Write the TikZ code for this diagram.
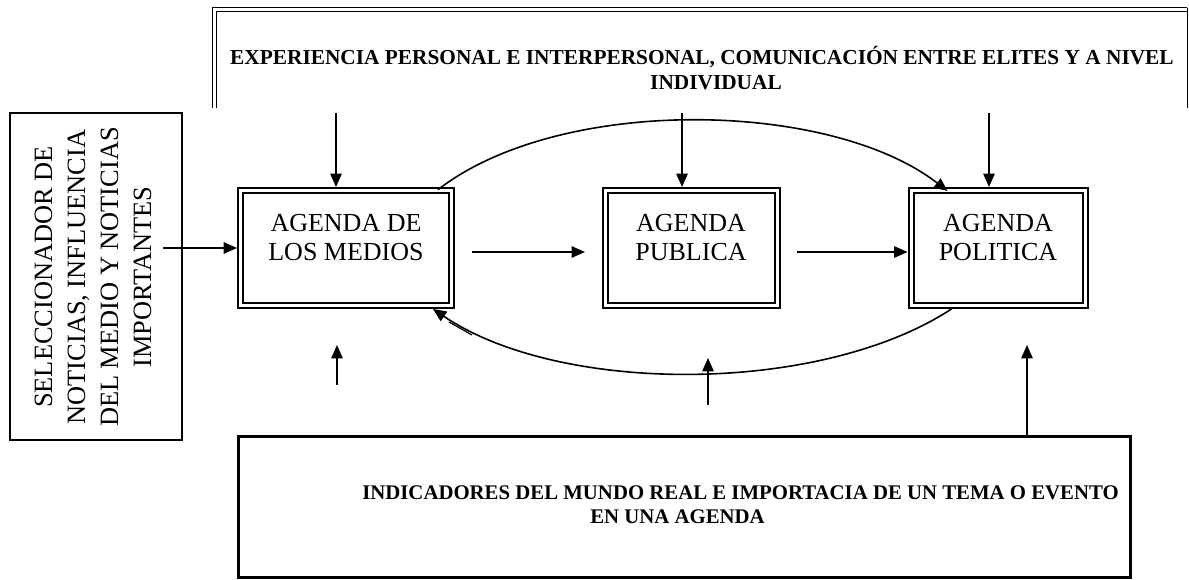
\documentclass[tikz,border=0pt]{standalone}
\usepackage{fontspec}
\setmainfont{Liberation Serif}
\usetikzlibrary{arrows.meta,calc}
\begin{document}
\begin{tikzpicture}[x=0.75pt,y=-0.75pt,
  arr/.style={line width=1.2pt,-{Triangle[length=10pt,width=8.5pt]}},
  agbox/.style={draw,double,double distance=2.25pt,line width=1.5pt,minimum width=#1,minimum height=86.25pt,inner sep=0pt,outer sep=2.6pt},
  agtext/.style={font=\fontsize{19.5pt}{21.75pt}\selectfont,align=center,inner sep=0pt},
  boldtext/.style={font=\fontsize{16pt}{19pt}\selectfont\bfseries,inner sep=0pt},
  boldsmall/.style={font=\fontsize{15.6pt}{18.5pt}\selectfont\bfseries,inner sep=0pt},
  sidetext/.style={font=\fontsize{19.8pt}{24.75pt}\selectfont,align=center,inner sep=0pt,rotate=90},
  frame/.style={draw,line width=#1,inner sep=0pt}]
\useasboundingbox (0,0) rectangle (1189,580);

% top frame (open at the bottom)
\draw[double,double distance=1.6pt,line width=0.9pt] (214.5,108) -- (214.5,9.5) -- (1187,9.5);
\draw[line width=1.4pt] (1187.5,8) -- (1187.5,108);
\node[boldtext,anchor=base] (tt1) at (702,65) {EXPERIENCIA PERSONAL E INTERPERSONAL, COMUNICACIÓN ENTRE ELITES Y A NIVEL};
\node[boldtext,anchor=base] (tt2) at (716,90) {INDIVIDUAL};

% left box
\node[frame=1.3pt,minimum width=129pt,minimum height=245pt] (lb) at (96,276.5) {};
\node[sidetext] (lt) at (93,277) {SELECCIONADOR DE\\NOTICIAS, INFLUENCIA\\DEL MEDIO Y NOTICIAS\\IMPORTANTES};

% agenda boxes
\node[agbox=158.25pt] (b1) at (346,248) {};
\node[agtext] (t1) at (346,237.5) {AGENDA DE\\LOS MEDIOS};
\node[agbox=129pt] (b2) at (691,248) {};
\node[agtext] (t2) at (691,237.5) {AGENDA\\PUBLICA};
\node[agbox=130.5pt] (b3) at (998,248) {};
\node[agtext] (t3) at (998,237.5) {AGENDA\\POLITICA};

% bottom box
\node[frame=2.25pt,minimum width=669pt,minimum height=105.75pt] (bb) at (684.5,507) {};
\node[boldsmall,anchor=base west] (bt1) at (362,500) {INDICADORES DEL MUNDO REAL E IMPORTACIA DE UN TEMA O EVENTO};
\node[boldsmall,anchor=base west] (bt2) at (590,524) {EN UNA AGENDA};

% coordinates of free ends
\coordinate (d1) at (336,113);
\coordinate (d2) at (682,113);
\coordinate (d3) at (989,113);
\coordinate (ls) at (163,248);
\coordinate (h1s) at (472,252);
\coordinate (h1e) at (585,252);
\coordinate (h2s) at (797,252);
\coordinate (u1s) at (337,385);
\coordinate (u1e) at (337,345);
\coordinate (u2s) at (708,405);
\coordinate (u2e) at (708,358);
\coordinate (u3e) at (1027,345);
\coordinate (dbA) at (449,322);
\coordinate (dbB) at (472,335);

% down arrows from the top frame
\draw[arr] (d1) -- (d1 |- b1.north);
\draw[arr] (d2) -- (d2 |- b2.north);
\draw[arr] (d3) -- (d3 |- b3.north);

% horizontal arrows
\draw[arr] (ls) -- (ls -| b1.west);
\draw[arr] (h1s) -- (h1e);
\draw[arr] (h2s) -- (h2s -| b3.west);

% up arrows
\draw[arr] (u1s) -- (u1e);
\draw[arr] (u2s) -- (u2e);
\draw[arr] (u3e |- bb.north) -- (u3e);

% curved arrows
\draw[arr] ([xshift=-12.75pt,yshift=-2pt]b1.north east) .. controls (560,95) and (830,100) .. ([xshift=30pt,yshift=-3pt]b3.north west);
\draw[arr] ([xshift=33pt]b3.south west) .. controls (820,395) and (560,395) .. ([xshift=-16.5pt]b1.south east);
\draw[line width=0.9pt] (dbA) -- (dbB);
\end{tikzpicture}
\end{document}
